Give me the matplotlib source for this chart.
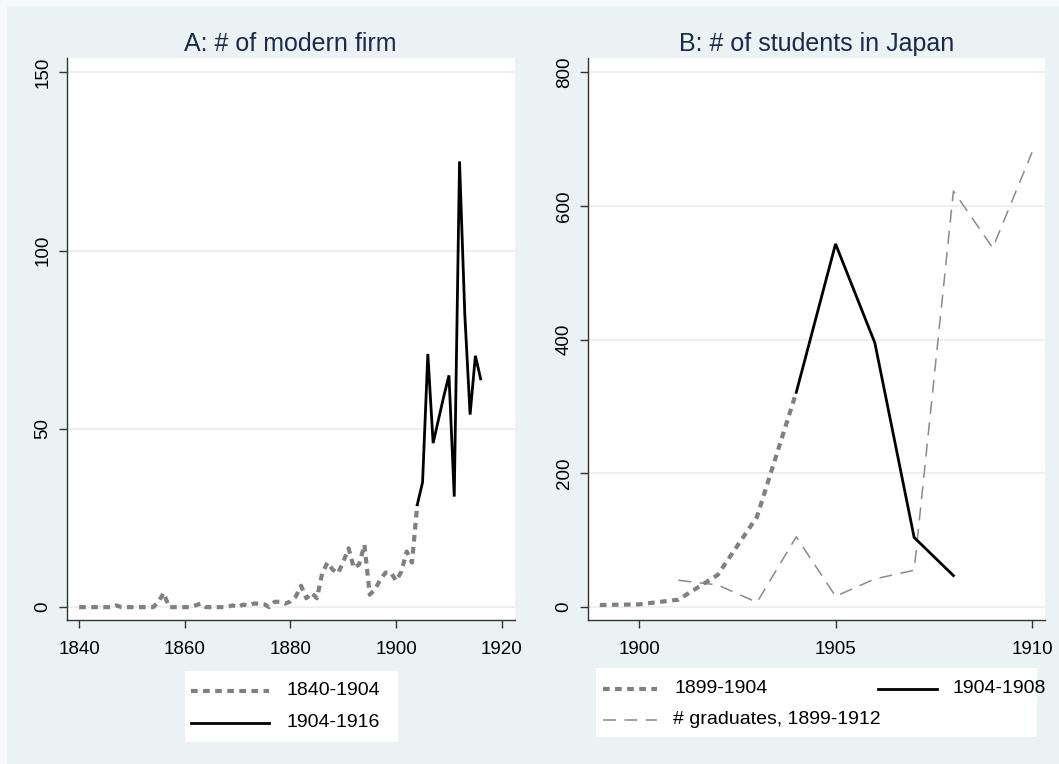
import matplotlib
matplotlib.use("Agg")
import matplotlib.pyplot as plt
from matplotlib.lines import Line2D
from matplotlib.patches import Rectangle

plt.rcParams['font.family'] = ['Liberation Sans', 'DejaVu Sans']

# ---------------- data ----------------
years_a1 = list(range(1840, 1905))
firms_a1 = [0, 0, 0, 0, 0, 0, 0, 0.5, 0, 0,
            0, 0, 0, 0, 0, 1.5, 4, 0, 0, 0,
            0, 0, 0.5, 1, 0, 0, 0, 0, 0, 0.5,
            0, 0.7, 0.5, 1, 1, 0.8, 0, 1.5, 1.5, 1,
            1.6, 3, 6, 2.5, 4, 2.5, 9.5, 12.5, 10.5, 9.5,
            12.8, 16.5, 11, 12, 17.5, 3.5, 5, 7.7, 9.7, 9.7,
            7.4, 10, 15.6, 12.5, 28.7]
years_a2 = list(range(1904, 1917))
firms_a2 = [28.7, 35, 71, 46, 52.5, 59, 65, 31, 125, 82, 54, 70.5, 64]

years_b1 = [1899, 1900, 1901, 1902, 1903, 1904]
stud_b1 = [3, 4, 11, 48, 135, 321]
years_b2 = [1904, 1905, 1906, 1907, 1908]
stud_b2 = [321, 543, 395, 104, 47]
years_b3 = [1901, 1902, 1903, 1904, 1905, 1906, 1907, 1908, 1909, 1910]
grads_b3 = [40, 33, 7, 105, 16, 42, 55, 622, 537, 680]

title_a = "A: # of modern firm"
title_b = "B: # of students in Japan"
labels_a = ["1840-1904", "1904-1916"]
labels_b = ["1899-1904", "1904-1908", "# graduates, 1899-1912"]

# ---------------- style ----------------
W, H = 1059, 764
BG = '#EAF2F3'
GRID = '#E9EEEF'
TITLE_C = '#1c2a48'
DOT_C = '#808080'
DASH_C = '#8a8a8a'

dot_style = dict(color=DOT_C, lw=3.0, dashes=(1.6, 1.3), dash_capstyle='butt')
solid_style = dict(color='black', lw=2.0, solid_joinstyle='miter')
dash_style = dict(color=DASH_C, lw=1.1, dashes=(8.5, 5.5))

fig = plt.figure(figsize=(W / 100, H / 100), dpi=100, facecolor=BG)

# thin lighter border at top/left
fig.patches.append(Rectangle((0, 1 - 5 / H), 1, 5 / H, transform=fig.transFigure,
                             color='#F7FAFA', zorder=0))
fig.patches.append(Rectangle((0, 0), 6 / W, 1, transform=fig.transFigure,
                             color='#F7FAFA', zorder=0))


def px_rect(x0, y0, x1, y1):
    return [x0 / W, 1 - y1 / H, (x1 - x0) / W, (y1 - y0) / H]


def style_axes(ax):
    ax.set_facecolor('white')
    for s in ['top', 'right']:
        ax.spines[s].set_visible(False)
    for s in ['left', 'bottom']:
        ax.spines[s].set_color('#333333')
        ax.spines[s].set_linewidth(1.0)
    ax.tick_params(axis='both', direction='out', length=6, width=1.0,
                   color='#333333', labelsize=13.5, labelcolor='black')
    ax.tick_params(axis='x', pad=9)
    ax.tick_params(axis='y', pad=5)
    for lab in ax.get_yticklabels():
        lab.set_rotation(90)
        lab.set_va('center')
    ax.yaxis.grid(True, color=GRID, lw=1.2)
    ax.set_axisbelow(True)


# ---------------- panel A ----------------
axA = fig.add_axes(px_rect(66.5, 58, 515, 620))
axA.plot(years_a1, firms_a1, **dot_style, zorder=3)
axA.plot(years_a2, firms_a2, **solid_style, zorder=4)
axA.set_xlim(1837.6, 1922.5)
axA.set_ylim(-3.6, 154)
axA.set_xticks([1840, 1860, 1880, 1900, 1920])
axA.set_yticks([0, 50, 100, 150])
style_axes(axA)
axA.set_title(title_a, fontsize=18, color=TITLE_C, pad=5)

# ---------------- panel B ----------------
axB = fig.add_axes(px_rect(588, 58, 1045, 620))
axB.plot(years_b1, stud_b1, **dot_style, zorder=3)
axB.plot(years_b2, stud_b2, **solid_style, zorder=4)
axB.plot(years_b3, grads_b3, **dash_style, zorder=2)
axB.set_xlim(1898.7, 1910.33)
axB.set_ylim(-19.4, 821)
axB.set_xticks([1900, 1905, 1910])
axB.set_yticks([0, 200, 400, 600, 800])
style_axes(axB)
axB.set_title(title_b, fontsize=18, color=TITLE_C, pad=5)


# ---------------- legends (manual, figure pixel coords) ----------------
def fx(x):
    return x / W


def fy(y):
    return 1 - y / H


def legend_box(x0, y0, x1, y1):
    fig.patches.append(Rectangle((fx(x0), fy(y1)), fx(x1) - fx(x0), fy(y0) - fy(y1),
                                 transform=fig.transFigure, facecolor='white',
                                 edgecolor='none', zorder=1))


def legend_item(x0, x1, y, style, text, tx):
    fig.add_artist(Line2D([fx(x0), fx(x1)], [fy(y), fy(y)], transform=fig.transFigure,
                          zorder=2, **style))
    fig.text(fx(tx), fy(y), text, fontsize=14, color='black', va='center', ha='left',
             zorder=3)


legend_box(184.5, 671, 398, 742)
legend_item(191, 269, 690.5, dot_style, labels_a[0], 286)
legend_item(191, 269, 722.5, solid_style, labels_a[1], 286)

legend_box(596, 668, 1037, 737)
legend_item(603, 657, 688.5, dot_style, labels_b[0], 675)
legend_item(878, 937, 688.5, solid_style, labels_b[1], 952)
legend_item(603, 657, 719.5, dash_style, labels_b[2], 673)

fig.savefig('out.png', dpi=100, facecolor=BG)
